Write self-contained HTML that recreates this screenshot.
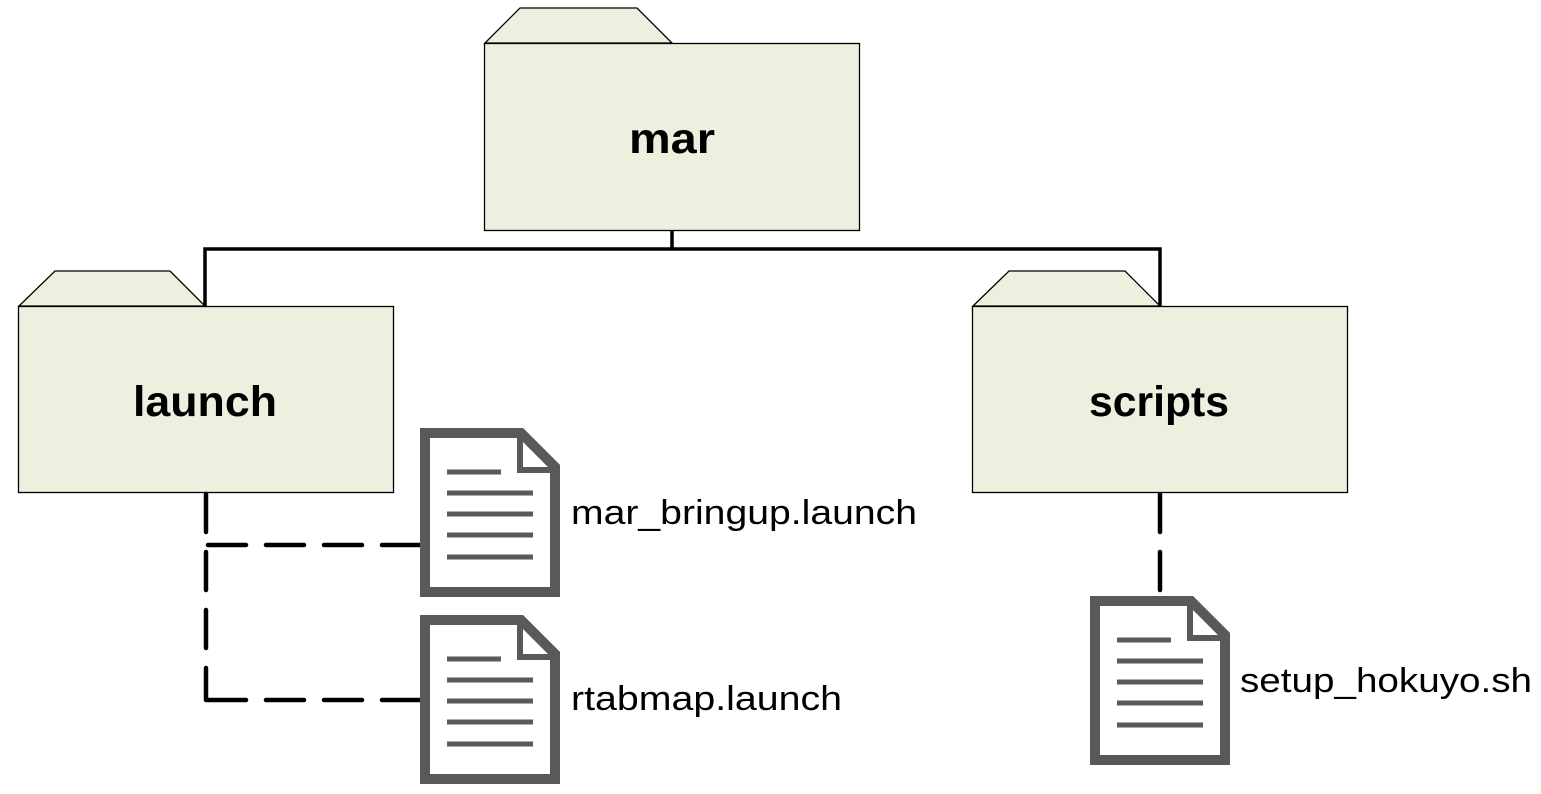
<!DOCTYPE html>
<html><head><meta charset="utf-8"><style>html,body{margin:0;padding:0;background:#fff}svg{display:block}</style></head>
<body>
<svg width="1541" height="794" xmlns="http://www.w3.org/2000/svg" font-family="Liberation Sans, Calibri, sans-serif">
<defs>
<g id="doc">
<path d="M5,5 H101 L135,39 V164 H5 Z" fill="#fff" stroke="#595959" stroke-width="10" stroke-linejoin="miter"/>
<path d="M100,5 V42 H135" fill="none" stroke="#595959" stroke-width="6"/>
<g stroke="#595959" stroke-width="5">
<line x1="27" y1="44" x2="81" y2="44"/>
<line x1="27" y1="65" x2="113" y2="65"/>
<line x1="27" y1="86" x2="113" y2="86"/>
<line x1="27" y1="107" x2="113" y2="107"/>
<line x1="27" y1="129" x2="113" y2="129"/>
</g>
</g>
</defs>
<g fill="#ebf1de" stroke="#000" stroke-width="1.3">
<path d="M485,43 L520,8 H637 L672,43 Z"/>
<rect x="484.5" y="43.5" width="375" height="187"/>
<path d="M19,306 L55,271 H170 L205,306 Z"/>
<rect x="18.5" y="306.5" width="375" height="186"/>
<path d="M973,306 L1009,271 H1125 L1160,306 Z"/>
<rect x="972.5" y="306.5" width="375" height="186"/>
</g>
<path d="M672,230 V249 M205,306 V249 H1160 V306" fill="none" stroke="#000" stroke-width="3.5"/>
<g fill="none" stroke="#000" stroke-width="4.5" stroke-dasharray="38 20" stroke-linecap="round">
<path d="M206,494 V700"/>
<path d="M420,545 H206"/>
<path d="M420,700 H206"/>
<path d="M1160,494 V596"/>
</g>
<use href="#doc" x="420" y="428"/>
<use href="#doc" x="420" y="615"/>
<use href="#doc" x="1090" y="596"/>
<g font-weight="bold" font-size="43" fill="#000">
<text x="629" y="153" textLength="86" lengthAdjust="spacingAndGlyphs">mar</text>
<text x="133" y="416" textLength="144" lengthAdjust="spacingAndGlyphs">launch</text>
<text x="1089" y="416" textLength="140" lengthAdjust="spacingAndGlyphs">scripts</text>
</g>
<g font-size="34" fill="#000">
<text x="571" y="524" textLength="346" lengthAdjust="spacingAndGlyphs">mar_bringup.launch</text>
<text x="571" y="710" textLength="271" lengthAdjust="spacingAndGlyphs">rtabmap.launch</text>
<text x="1240" y="692" textLength="292" lengthAdjust="spacingAndGlyphs">setup_hokuyo.sh</text>
</g>
</svg>
</body></html>
